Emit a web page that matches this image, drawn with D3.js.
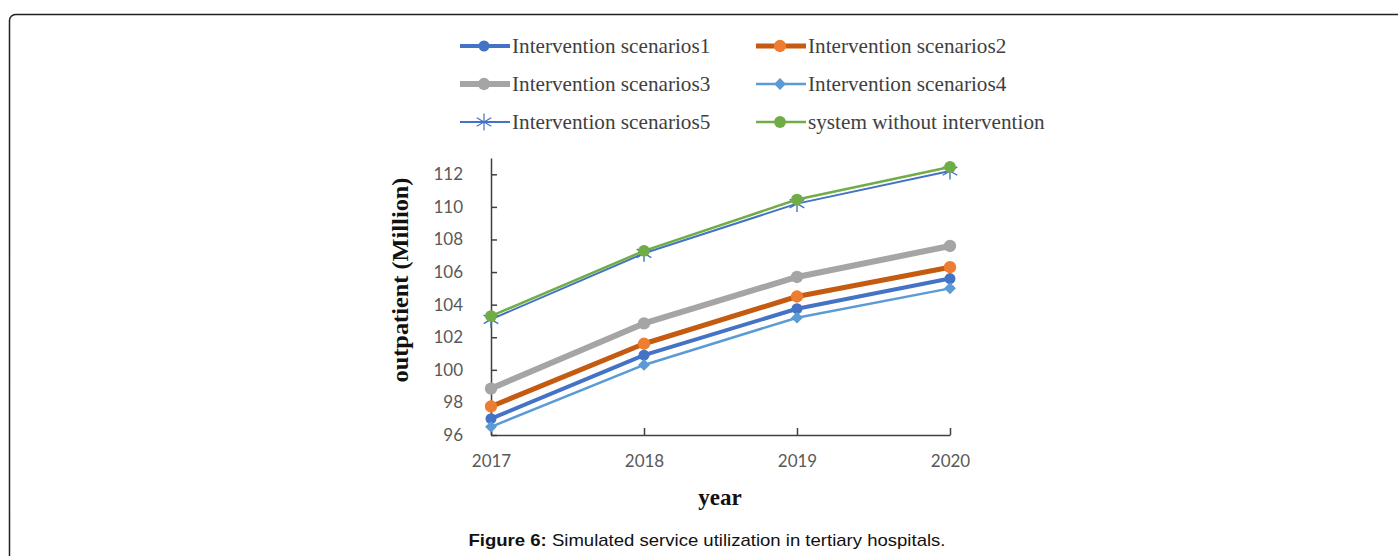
<!DOCTYPE html>
<html>
<head>
<meta charset="utf-8">
<script src="https://cdn.jsdelivr.net/npm/d3@7"></script>
<style>
  body { margin: 0; background: #fff; }
  svg { display: block; }
</style>
</head>
<body>
<div id="chart"></div>
<script>
// chart values
var years = ["2017", "2018", "2019", "2020"];
var yTicks = [96, 98, 100, 102, 104, 106, 108, 110, 112];
var seriesNames = ["Intervention scenarios1", "Intervention scenarios2", "Intervention scenarios3",
                   "Intervention scenarios4", "Intervention scenarios5", "system without intervention"];
var scenario1 = [97.0, 100.9, 103.75, 105.6];
var scenario2 = [97.75, 101.6, 104.5, 106.3];
var scenario3 = [98.85, 102.85, 105.7, 107.6];
var scenario4 = [96.5, 100.3, 103.2, 105.0];
var scenario5 = [103.1, 107.15, 110.2, 112.2];
var noIntervention = [103.3, 107.3, 110.45, 112.45];

var W = 1398, H = 556;

var svg = d3.select("#chart").append("svg")
    .attr("width", W)
    .attr("height", H);

// page frame (rounded box running off the right/bottom edge)
svg.append("rect")
    .attr("x", 9.5).attr("y", 14.5)
    .attr("width", 1420).attr("height", 600)
    .attr("rx", 6).attr("ry", 6)
    .attr("fill", "none")
    .attr("stroke", "#222")
    .attr("stroke-width", 1.5);

var x = d3.scalePoint().domain(years).range([491, 950]);
var y = d3.scaleLinear().domain([96, 113]).range([435, 158]);

// style per series
var styles = [
    { data: scenario1, line: "#4472C4", width: 4, marker: "circle", fill: "#4472C4", size: 95 },
    { data: scenario2, line: "#C55A11", width: 5, marker: "circle", fill: "#ED7D31", size: 120 },
    { data: scenario3, line: "#A5A5A5", width: 6, marker: "circle", fill: "#A5A5A5", size: 120 },
    { data: scenario4, line: "#5B9BD5", width: 2.5, marker: "diamond", fill: "#5B9BD5", size: 70 },
    { data: scenario5, line: "#4472C4", width: 2, marker: "star", fill: "#4472C4", size: 200 },
    { data: noIntervention, line: "#70AD47", width: 2.5, marker: "circle", fill: "#70AD47", size: 110 }
];

var symbolOf = function(s) {
    if (s.marker === "diamond") return d3.symbol().type(d3.symbolSquare).size(s.size);
    if (s.marker === "star") return d3.symbol().type(d3.symbolAsterisk).size(s.size);
    return d3.symbol().type(d3.symbolCircle).size(s.size);
};

var drawMarker = function(g, s, legend) {
    var p = g.append("path").attr("d", symbolOf(s)());
    if (s.marker === "star") {
        p.attr("fill", "none").attr("stroke", s.fill).attr("stroke-width", legend ? 1.2 : 1.4);
    } else {
        p.attr("fill", s.fill).attr("stroke", "none");
    }
    if (s.marker === "diamond") p.attr("transform", "rotate(45)");
};

// axes
var axisColor = "#404040";
var tickFont = "Lato, 'Open Sans', sans-serif";

var gx = svg.append("g").attr("transform", "translate(0," + y(96) + ")");
gx.call(d3.axisBottom(x).tickSize(-7).tickPadding(20).tickSizeOuter(0));
gx.select(".domain").attr("stroke", axisColor).attr("stroke-width", 1.5);
gx.selectAll(".tick line").attr("stroke", axisColor).attr("stroke-width", 1.5);
gx.selectAll(".tick text")
    .attr("fill", "#595959")
    .style("font-family", tickFont)
    .style("font-size", "17px");

var gy = svg.append("g").attr("transform", "translate(" + x("2017") + ",0)");
gy.call(d3.axisLeft(y).tickValues(yTicks).tickSize(-6).tickPadding(28).tickSizeOuter(0));
gy.select(".domain").attr("stroke", axisColor).attr("stroke-width", 1.5);
gy.selectAll(".tick line").attr("stroke", axisColor).attr("stroke-width", 1.5);
gy.selectAll(".tick text")
    .attr("fill", "#595959")
    .style("font-family", tickFont)
    .style("font-size", "17px");

// lines + markers
var line = d3.line()
    .x(function(d, i) { return x(years[i]); })
    .y(function(d) { return y(d); });

styles.forEach(function(s) {
    svg.append("path")
        .datum(s.data)
        .attr("d", line)
        .attr("fill", "none")
        .attr("stroke", s.line)
        .attr("stroke-width", s.width)
        .attr("stroke-linejoin", "round");

    s.data.forEach(function(v, i) {
        var g = svg.append("g")
            .attr("transform", "translate(" + x(years[i]) + "," + y(v) + ")");
        drawMarker(g, s, false);
    });
});

// axis titles
var serif = "'Liberation Serif', 'Times New Roman', serif";

svg.append("text")
    .attr("transform", "translate(408,280) rotate(-90)")
    .attr("text-anchor", "middle")
    .style("font-family", serif)
    .style("font-weight", "bold")
    .style("font-size", "23px")
    .attr("fill", "#111")
    .attr("textLength", 205)
    .attr("lengthAdjust", "spacingAndGlyphs")
    .text("outpatient (Million)");

svg.append("text")
    .attr("x", 720).attr("y", 505)
    .attr("text-anchor", "middle")
    .style("font-family", serif)
    .style("font-weight", "bold")
    .style("font-size", "23px")
    .attr("fill", "#111")
    .text("year");

// legend, 2 columns x 3 rows
var legendCols = [460, 756];
var legendRows = [46, 84, 122];

styles.forEach(function(s, i) {
    var lx = legendCols[i % 2], ly = legendRows[Math.floor(i / 2)];
    var g = svg.append("g").attr("transform", "translate(" + lx + "," + ly + ")");
    g.append("line")
        .attr("x1", 0).attr("x2", 50)
        .attr("stroke", s.line)
        .attr("stroke-width", s.width);
    var m = g.append("g").attr("transform", "translate(24,0)");
    drawMarker(m, s, true);
    g.append("text")
        .attr("x", 52).attr("y", 7)
        .style("font-family", serif)
        .style("font-size", "21.2px")
        .attr("fill", "#404040")
        .text(seriesNames[i]);
});

// caption
var cap = svg.append("text")
    .attr("x", 707).attr("y", 546)
    .attr("text-anchor", "middle")
    .style("font-family", "'Liberation Sans', Arial, sans-serif")
    .style("font-size", "17px")
    .attr("fill", "#111")
    .attr("textLength", 477)
    .attr("lengthAdjust", "spacingAndGlyphs");
cap.append("tspan").style("font-weight", "bold").text("Figure 6:");
cap.append("tspan").text(" Simulated service utilization in tertiary hospitals.");
</script>
</body>
</html>
